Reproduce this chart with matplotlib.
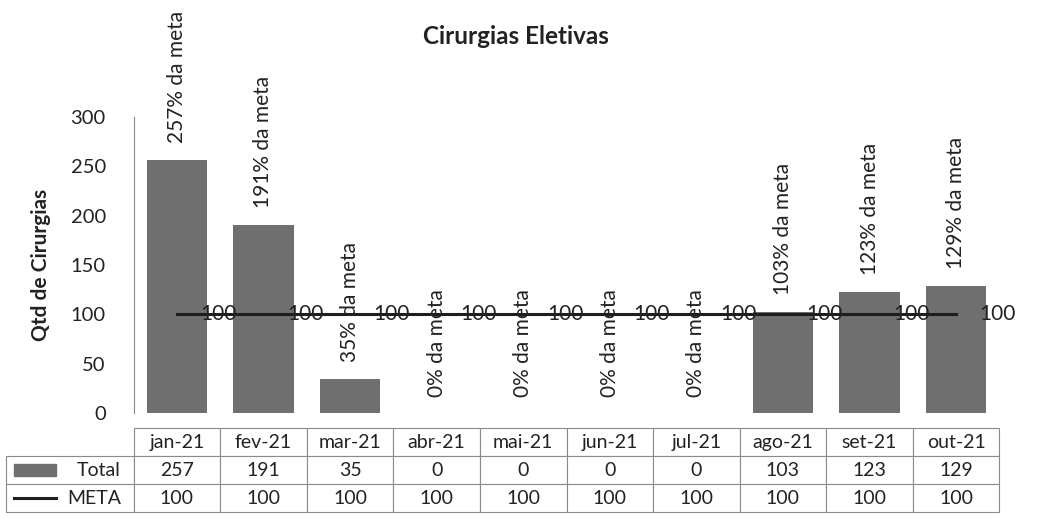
import matplotlib
matplotlib.use("Agg")
import matplotlib.pyplot as plt
from matplotlib.table import Table
from matplotlib.patches import Rectangle
from matplotlib.lines import Line2D

plt.rcParams["font.family"] = ["Lato", "DejaVu Sans"]

# ---- data ----
months = ["jan-21", "fev-21", "mar-21", "abr-21", "mai-21",
          "jun-21", "jul-21", "ago-21", "set-21", "out-21"]
total = [257, 191, 35, 0, 0, 0, 0, 103, 123, 129]
meta = [100, 100, 100, 100, 100, 100, 100, 100, 100, 100]
series_names = ["Total", "META"]

bar_color = "#6f6f6f"
line_color = "#1e1e1e"
grid_color = "#8a8a8a"
txt_color = "#222222"

fig = plt.figure(figsize=(10.52, 5.23), dpi=100)
ax = fig.add_axes([0.127, 0.21, 0.823, 0.566])

x = list(range(len(months)))
ax.bar(x, total, width=0.7, color=bar_color, zorder=2)
ax.plot(x, meta, color=line_color, lw=2.2, zorder=3)

# percentage-of-goal labels above the bars
for xi, t, m in zip(x, total, meta):
    ax.annotate(f"{round(t / m * 100)}% da meta", (xi, t), xytext=(0, 12),
                textcoords="offset points", rotation=90, ha="center", va="bottom",
                fontsize=15, color=txt_color, zorder=4)

# goal labels right of line points
for xi, m in zip(x, meta):
    ax.annotate(f"{m}", (xi, m), xytext=(17, 0), textcoords="offset points",
                ha="left", va="center", fontsize=15, color=txt_color, zorder=4)

ax.set_xlim(-0.5, len(months) - 0.5)
ax.set_ylim(0, 300)
ax.set_yticks(range(0, 301, 50))
ax.tick_params(axis="y", length=0, labelsize=14.5, pad=20, colors=txt_color)
ax.set_xticks([])
for side in ["top", "right", "bottom"]:
    ax.spines[side].set_visible(False)
ax.spines["left"].set_color(grid_color)
ax.spines["left"].set_linewidth(0.8)
ax.set_ylabel("Qtd de Cirurgias", fontsize=15, fontweight="bold", labelpad=14,
              color=txt_color)
fig.text(0.49, 0.93, "Cirurgias Eletivas", ha="center", va="center",
         fontsize=17.5, fontweight="bold", color=txt_color)

# ---- data table under the chart (Excel style) ----
lab_w = 127 / 865
col_w = 1 / len(months)
row_h = 1 / 3
tbl = Table(ax, bbox=[-lab_w, -0.335, 1 + lab_w, 0.285])
corner = tbl.add_cell(0, 0, lab_w, row_h, text="")
corner.visible_edges = ""
for j, mname in enumerate(months):
    tbl.add_cell(0, j + 1, col_w, row_h, text=mname, loc="center")
for i, (name, vals) in enumerate(zip(series_names, [total, meta])):
    c = tbl.add_cell(i + 1, 0, lab_w, row_h, text=name, loc="right")
    c.PAD = 0.1
    for j, v in enumerate(vals):
        tbl.add_cell(i + 1, j + 1, col_w, row_h, text=str(v), loc="center")
tbl.auto_set_font_size(False)
tbl.set_fontsize(14)
for cell in tbl.get_celld().values():
    cell.set_edgecolor(grid_color)
    cell.set_linewidth(0.8)
    cell.get_text().set_color(txt_color)
ax.add_table(tbl)

# legend keys inside the row-label cells
fig.canvas.draw()
renderer = fig.canvas.get_renderer()
cells = tbl.get_celld()
for row, kind in [(1, "bar"), (2, "line")]:
    bb = cells[(row, 0)].get_window_extent(renderer).transformed(fig.transFigure.inverted())
    ymid = bb.y0 + bb.height / 2
    kx0 = bb.x0 + 0.007
    kx1 = kx0 + 0.04
    if kind == "bar":
        fig.add_artist(Rectangle((kx0, ymid - 0.011), kx1 - kx0, 0.022,
                                 transform=fig.transFigure, color=bar_color))
    else:
        fig.add_artist(Line2D([kx0, kx1], [ymid, ymid], transform=fig.transFigure,
                              color=line_color, lw=2.2))

fig.savefig("out.png", dpi=100)
